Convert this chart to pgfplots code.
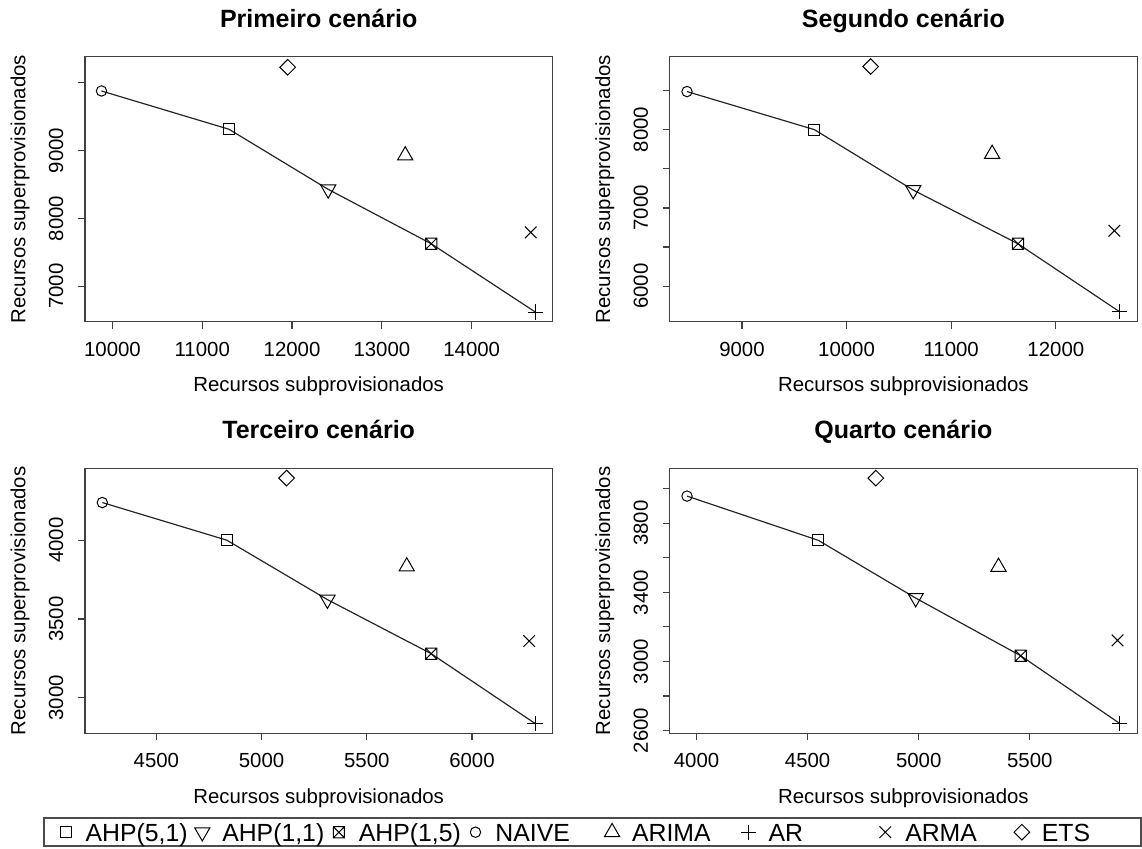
\documentclass[border=0pt]{standalone}
\usepackage{pgfplots}
\pgfplotsset{compat=1.18}
\usepackage{fontspec}
\setmainfont{Liberation Sans}

\pgfdeclareplotmark{boxx}{%
  \pgfpathrectangle{\pgfqpoint{-\pgfplotmarksize}{-\pgfplotmarksize}}{\pgfqpoint{2\pgfplotmarksize}{2\pgfplotmarksize}}%
  \pgfpathmoveto{\pgfqpoint{-\pgfplotmarksize}{-\pgfplotmarksize}}\pgfpathlineto{\pgfqpoint{\pgfplotmarksize}{\pgfplotmarksize}}%
  \pgfpathmoveto{\pgfqpoint{-\pgfplotmarksize}{\pgfplotmarksize}}\pgfpathlineto{\pgfqpoint{\pgfplotmarksize}{-\pgfplotmarksize}}%
  \pgfusepathqstroke}
\pgfdeclareplotmark{rdiamond}{%
  \pgfpathmoveto{\pgfqpoint{0pt}{\pgfplotmarksize}}%
  \pgfpathlineto{\pgfqpoint{\pgfplotmarksize}{0pt}}%
  \pgfpathlineto{\pgfqpoint{0pt}{-\pgfplotmarksize}}%
  \pgfpathlineto{\pgfqpoint{-\pgfplotmarksize}{0pt}}%
  \pgfpathclose\pgfusepathqstroke}

\pgfplotsset{
  mk/.style={only marks, black, mark options={solid, line width=0.5pt, fill=none}},
  mAHPa/.style={mk, mark=square, mark size=2.8pt},
  mAHPb/.style={mk, mark=triangle, mark size=4.4pt, mark options={rotate=180, solid, line width=0.5pt, fill=none}},
  mAHPc/.style={mk, mark=boxx, mark size=2.8pt},
  mNAIVE/.style={mk, mark=o, mark size=2.6pt},
  mARIMA/.style={mk, mark=triangle, mark size=4.4pt},
  mAR/.style={mk, mark=+, mark size=3.8pt},
  mARMA/.style={mk, mark=x, mark size=4.1pt},
  mETS/.style={mk, mark=rdiamond, mark size=3.9pt},
  front/.style={black!85, line width=0.6pt, mark=none},
  every axis title/.style={at={(axis description cs:0.5,1.111)}, anchor=base,
    font=\fontsize{12.5}{15}\selectfont\bfseries},
  rpanel/.style={
    scale only axis, width=233.7pt, height=132.5pt,
    anchor=south west, clip=false,
    scaled ticks=false,
    axis line style={black!75, line width=0.6pt},
    tick align=outside, major tick length=3.5pt,
    tick style={black!75, line width=0.6pt},
    xtick pos=left, ytick pos=left,
    tick label style={font=\fontsize{10.2}{12}\selectfont},
    label style={font=\fontsize{10.2}{12}\selectfont},
    xlabel style={at={(axis description cs:0.5,-0.245)}, anchor=center},
    ylabel style={at={(axis description cs:-0.139,0.5)}, anchor=center, rotate=0},
    xlabel={Recursos subprovisionados},
    ylabel={Recursos superprovisionados},
    xticklabel style={anchor=north, inner sep=0pt, yshift=-6.5pt},
    yticklabel style={xshift=-7.15pt, rotate=90, anchor=south, inner sep=0pt},
  },
}

\begin{document}
\begin{tikzpicture}
\useasboundingbox (0pt,0pt) rectangle (571pt,424pt);

% Panel 1
\begin{axis}[rpanel, at={(42.5pt,263.15pt)}, title={Primeiro cenário},
  xmin=9694.2, xmax=14898.8, ymin=6476.2, ymax=10385.8,
  xtick={10000,11000,12000,13000,14000}, xticklabels={10000,11000,12000,13000,14000},
  ytick={7000,8000,9000,10000}, yticklabels={7000,8000,9000,}]
\addplot[front] coordinates {(9878,9880) (11298,9315) (12402,8429) (13550,7626) (14710,6618)};
\addplot[mAHPa] coordinates {(11298,9315)};
\addplot[mAHPb] coordinates {(12402,8429)};
\addplot[mAHPc] coordinates {(13550,7626)};
\addplot[mNAIVE] coordinates {(9878,9880)};
\addplot[mARIMA] coordinates {(13260,8928)};
\addplot[mAR] coordinates {(14710,6618)};
\addplot[mARMA] coordinates {(14657,7794)};
\addplot[mETS] coordinates {(11951,10230)};
\end{axis}

% Panel 2
\begin{axis}[rpanel, at={(334.85pt,263.15pt)}, title={Segundo cenário},
  xmin=8309.6, xmax=12776.4, ymin=5546.6, ymax=8931.4,
  xtick={9000,10000,11000,12000}, xticklabels={9000,10000,11000,12000},
  ytick={6000,6500,7000,7500,8000,8500}, yticklabels={6000,,7000,,8000,}]
\addplot[front] coordinates {(8475,8486) (9692,8000) (10637,7228) (11638,6542) (12611,5672)};
\addplot[mAHPa] coordinates {(9692,8000)};
\addplot[mAHPb] coordinates {(10637,7228)};
\addplot[mAHPc] coordinates {(11638,6542)};
\addplot[mNAIVE] coordinates {(8475,8486)};
\addplot[mARIMA] coordinates {(11391,7689)};
\addplot[mAR] coordinates {(12611,5672)};
\addplot[mARMA] coordinates {(12559,6708)};
\addplot[mETS] coordinates {(10230,8806)};
\end{axis}

% Panel 3
\begin{axis}[rpanel, at={(42.5pt,57.35pt)}, title={Terceiro cenário},
  xmin=4160.7, xmax=6382.3, ymin=2774.7, ymax=4456.3,
  xtick={4500,5000,5500,6000}, xticklabels={4500,5000,5500,6000},
  ytick={3000,3500,4000}, yticklabels={3000,3500,4000}]
\addplot[front] coordinates {(4243,4239) (4835,4000) (5313,3623) (5806,3280) (6300,2837)};
\addplot[mAHPa] coordinates {(4835,4000)};
\addplot[mAHPb] coordinates {(5313,3623)};
\addplot[mAHPc] coordinates {(5806,3280)};
\addplot[mNAIVE] coordinates {(4243,4239)};
\addplot[mARIMA] coordinates {(5690,3833)};
\addplot[mAR] coordinates {(6300,2837)};
\addplot[mARMA] coordinates {(6272,3360)};
\addplot[mETS] coordinates {(5119,4394)};
\end{axis}

% Panel 4
\begin{axis}[rpanel, at={(334.85pt,57.35pt)}, title={Quarto cenário},
  xmin=3879.1, xmax=5982.9, ymin=2584.2, ymax=4117.8,
  xtick={4000,4500,5000,5500}, xticklabels={4000,4500,5000,5500},
  ytick={2600,2800,3000,3200,3400,3600,3800,4000}, yticklabels={2600,,3000,,3400,,3800,}]
\addplot[front] coordinates {(3957,3957) (4548,3701) (4986,3367) (5459,3033) (5905,2641)};
\addplot[mAHPa] coordinates {(4548,3701)};
\addplot[mAHPb] coordinates {(4986,3367)};
\addplot[mAHPc] coordinates {(5459,3033)};
\addplot[mNAIVE] coordinates {(3957,3957)};
\addplot[mARIMA] coordinates {(5359,3547)};
\addplot[mAR] coordinates {(5905,2641)};
\addplot[mARMA] coordinates {(5895,3122)};
\addplot[mETS] coordinates {(4807,4061)};
\end{axis}

% Legend
\begin{axis}[at={(0pt,0pt)}, anchor=south west, scale only axis, width=571pt, height=424pt,
  hide axis, xmin=0, xmax=1, ymin=0, ymax=1,
  legend columns=8,
  legend image code/.code={\path[draw=none] (0pt,0pt) -- (10pt,0pt); \draw[#1] plot coordinates {(5pt,4.6pt)};},
  legend style={at={(axis description cs:0.03765,0.00118)}, anchor=south west,
    draw=black!70, line width=0.9pt, inner xsep=5.9pt, inner ysep=1.15pt,
    font=\fontsize{12.4}{14}\selectfont,
    cells={anchor=base west},
    nodes={inner xsep=0pt, inner ysep=0pt, text height=10.5pt, text depth=1.2pt},
    /tikz/every odd column/.append style={column sep=5pt}},
]
\addlegendimage{mAHPa}\addlegendentry{\makebox[53.3pt][l]{AHP(5,1)}}
\addlegendimage{mAHPb}\addlegendentry{\makebox[53.3pt][l]{AHP(1,1)}}
\addlegendimage{mAHPc}\addlegendentry{\makebox[53.3pt][l]{AHP(1,5)}}
\addlegendimage{mNAIVE}\addlegendentry{\makebox[53.3pt][l]{NAIVE}}
\addlegendimage{mARIMA}\addlegendentry{\makebox[53.3pt][l]{ARIMA}}
\addlegendimage{mAR}\addlegendentry{\makebox[53.3pt][l]{AR}}
\addlegendimage{mARMA}\addlegendentry{\makebox[53.3pt][l]{ARMA}}
\addlegendimage{mETS}\addlegendentry{\makebox[43.7pt][l]{ETS}}
\end{axis}
\end{tikzpicture}
\end{document}
